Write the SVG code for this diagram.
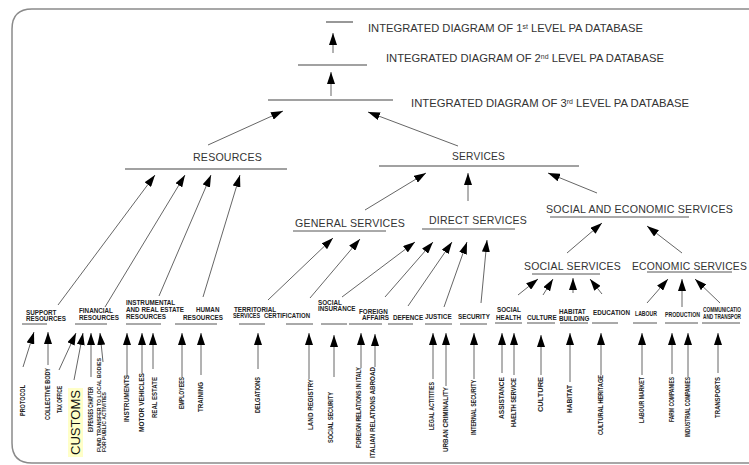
<svg xmlns="http://www.w3.org/2000/svg" width="749" height="465" viewBox="0 0 749 465">
  <style>
    .bg { fill: #ffffff; }
    .frame { fill: none; stroke: #8a8a8a; stroke-width: 1.5; }
    .bar { stroke: #444; stroke-width: 1.1; fill: none; }
    .ul { stroke: #555; stroke-width: 1; fill: none; }
    .title { font-family: "Liberation Sans", Arial, sans-serif; font-size: 10.5px; fill: #333; }
    .sup { font-size: 6.5px; }
    .head { font-family: "Liberation Sans", Arial, sans-serif; font-size: 10.5px; fill: #333; letter-spacing: 0.2px; }
    .lab { font-family: "Liberation Sans", Arial, sans-serif; font-size: 6.3px; font-weight: bold; fill: #222; }
    .leaf { font-family: "Liberation Sans", Arial, sans-serif; font-size: 6.4px; font-weight: bold; fill: #222; }
    .big { font-family: "Liberation Sans", Arial, sans-serif; font-size: 13.5px; fill: #111; }
    .hl { fill: #ffffc8; }
    .conn line { stroke: #666; stroke-width: 1; marker-end: url(#ah); }
  </style>
  <defs>
    <marker id="ah" viewBox="0 0 12 8" refX="12" refY="4" markerWidth="12" markerHeight="8" markerUnits="userSpaceOnUse" orient="auto">
      <path d="M0,0 L12,4 L0,8 z" fill="#000"/>
    </marker>
  </defs>

  <rect class="bg" x="0" y="0" width="749" height="465"/>
  <path class="frame" d="M752,9 H32 Q12,9 12,29 V443 Q12,463 32,463 H752"/>

  <!-- integrated diagrams -->
  <g id="level1">
    <line class="bar" x1="326" y1="22" x2="353" y2="22"/>
    <text class="title" x="368" y="32" textLength="275" lengthAdjust="spacingAndGlyphs">INTEGRATED DIAGRAM OF 1<tspan class="sup" dy="-3.5">st</tspan><tspan dy="3.5"> LEVEL PA DATABASE</tspan></text>
  </g>
  <g id="level2">
    <line class="bar" x1="298" y1="65" x2="367" y2="65"/>
    <text class="title" x="386" y="62" textLength="278" lengthAdjust="spacingAndGlyphs">INTEGRATED DIAGRAM OF 2<tspan class="sup" dy="-3.5">nd</tspan><tspan dy="3.5"> LEVEL PA DATABASE</tspan></text>
  </g>
  <g id="level3">
    <line class="bar" x1="268" y1="100" x2="393" y2="100"/>
    <text class="title" x="411" y="107" textLength="278" lengthAdjust="spacingAndGlyphs">INTEGRATED DIAGRAM OF 3<tspan class="sup" dy="-3.5">rd</tspan><tspan dy="3.5">  LEVEL PA DATABASE</tspan></text>
  </g>

  <!-- main branches -->
  <g id="resources">
    <text class="head" x="193" y="161" textLength="69" lengthAdjust="spacingAndGlyphs">RESOURCES</text>
    <line class="bar" x1="125" y1="169" x2="287" y2="169"/>
  </g>
  <g id="services">
    <text class="head" x="452" y="160" textLength="53" lengthAdjust="spacingAndGlyphs">SERVICES</text>
    <line class="bar" x1="379" y1="166" x2="579" y2="166"/>
  </g>
  <g id="general-services">
    <text class="head" x="295" y="227" textLength="110" lengthAdjust="spacingAndGlyphs">GENERAL SERVICES</text>
    <line class="ul" x1="293" y1="231" x2="386" y2="231"/>
  </g>
  <g id="direct-services">
    <text class="head" x="429" y="224" textLength="98" lengthAdjust="spacingAndGlyphs">DIRECT SERVICES</text>
    <line class="ul" x1="422" y1="229" x2="515" y2="229"/>
  </g>
  <g id="social-economic-services">
    <text class="head" x="546" y="213" textLength="187" lengthAdjust="spacingAndGlyphs">SOCIAL AND ECONOMIC SERVICES</text>
    <line class="ul" x1="550" y1="217" x2="689" y2="217"/>
  </g>
  <g id="social-services">
    <text class="head" x="524" y="270" textLength="97" lengthAdjust="spacingAndGlyphs">SOCIAL SERVICES</text>
    <line class="ul" x1="532" y1="274" x2="600" y2="274"/>
  </g>
  <g id="economic-services">
    <text class="head" x="632" y="270" textLength="115" lengthAdjust="spacingAndGlyphs">ECONOMIC SERVICES</text>
    <line class="ul" x1="647" y1="272" x2="732" y2="272"/>
  </g>

  <!-- resource categories -->
  <g id="support-resources">
    <text class="lab" x="26" y="315">SUPPORT</text>
    <text class="lab" x="26" y="321">RESOURCES</text>
    <line class="ul" x1="22" y1="324" x2="47" y2="324"/>
  </g>
  <g id="financial-resources">
    <text class="lab" x="79" y="313">FINANCIAL</text>
    <text class="lab" x="79" y="320">RESOURCES</text>
    <line class="ul" x1="75" y1="324" x2="107" y2="324"/>
  </g>
  <g id="instrumental-resources">
    <text class="lab" x="126" y="305">INSTRUMENTAL</text>
    <text class="lab" x="126" y="312">AND REAL ESTATE</text>
    <text class="lab" x="126" y="319">RESOURCES</text>
    <line class="ul" x1="126" y1="324" x2="161" y2="324"/>
  </g>
  <g id="human-resources">
    <text class="lab" x="196" y="312">HUMAN</text>
    <text class="lab" x="183" y="320">RESOURCES</text>
    <line class="ul" x1="175" y1="324" x2="217" y2="324"/>
  </g>

  <!-- service categories -->
  <g id="territorial-services">
    <text class="lab" x="234" y="312">TERRITORIAL</text>
    <text class="lab" x="233" y="318" textLength="27" lengthAdjust="spacingAndGlyphs">SERVICES</text>
    <line class="ul" x1="239" y1="324" x2="265" y2="324"/>
  </g>
  <g id="certification">
    <text class="lab" x="264" y="318" textLength="46" lengthAdjust="spacingAndGlyphs">CERTIFICATION</text>
    <line class="ul" x1="286" y1="324" x2="313" y2="324"/>
  </g>
  <g id="social-insurance">
    <text class="lab" x="318" y="305">SOCIAL</text>
    <text class="lab" x="318" y="311">INSURANCE</text>
    <line class="ul" x1="321" y1="324" x2="347" y2="324"/>
  </g>
  <g id="foreign-affairs">
    <text class="lab" x="359" y="313.5">FOREIGN</text>
    <text class="lab" x="362" y="320">AFFAIRS</text>
    <line class="ul" x1="349" y1="324" x2="382" y2="324"/>
  </g>
  <g id="defence">
    <text class="lab" x="393" y="320">DEFENCE</text>
    <line class="ul" x1="388" y1="324" x2="413" y2="324"/>
  </g>
  <g id="justice">
    <text class="lab" x="425" y="319">JUSTICE</text>
    <line class="ul" x1="425" y1="324" x2="452" y2="324"/>
  </g>
  <g id="security">
    <text class="lab" x="458" y="319">SECURITY</text>
    <line class="ul" x1="460" y1="324" x2="487" y2="324"/>
  </g>
  <g id="social-health">
    <text class="lab" x="497" y="312">SOCIAL</text>
    <text class="lab" x="496" y="320">HEALTH</text>
    <line class="ul" x1="495" y1="323" x2="522" y2="323"/>
  </g>
  <g id="culture">
    <text class="lab" x="527" y="320">CULTURE</text>
    <line class="ul" x1="527" y1="323" x2="555" y2="323"/>
  </g>
  <g id="habitat-building">
    <text class="lab" x="559" y="314">HABITAT</text>
    <text class="lab" x="559" y="321">BUILDING</text>
    <line class="ul" x1="560" y1="323" x2="588" y2="323"/>
  </g>
  <g id="education">
    <text class="lab" x="593" y="315">EDUCATION</text>
    <line class="ul" x1="592" y1="323" x2="618" y2="323"/>
  </g>
  <g id="labour">
    <text class="lab" x="635" y="316" textLength="22" lengthAdjust="spacingAndGlyphs">LABOUR</text>
    <line class="ul" x1="633" y1="323" x2="657" y2="323"/>
  </g>
  <g id="production">
    <text class="lab" x="665" y="317" textLength="35" lengthAdjust="spacingAndGlyphs">PRODUCTION</text>
    <line class="ul" x1="665" y1="323" x2="698" y2="323"/>
  </g>
  <g id="communication-transport">
    <text class="lab" x="703" y="312" textLength="38" lengthAdjust="spacingAndGlyphs">COMMUNICATIO</text>
    <text class="lab" x="703" y="318.5" textLength="38" lengthAdjust="spacingAndGlyphs">AND TRANSPOR</text>
    <line class="ul" x1="702" y1="323" x2="740" y2="323"/>
  </g>

  <!-- leaf items (rotated labels) -->
  <g id="protocol"><text class="leaf" transform="translate(25,416) rotate(-90)" textLength="31" lengthAdjust="spacingAndGlyphs">PROTOCOL</text></g>
  <g id="collective-body"><text class="leaf" transform="translate(50,420) rotate(-90)" textLength="52" lengthAdjust="spacingAndGlyphs">COLLECTIVE BODY</text></g>
  <g id="tax-office"><text class="leaf" transform="translate(62,413) rotate(-90)" textLength="27" lengthAdjust="spacingAndGlyphs">TAX OFFICE</text></g>
  <g id="customs">
    <rect class="hl" x="68" y="388" width="15" height="69"/>
    <text class="big" transform="translate(80,455) rotate(-90)" textLength="65" lengthAdjust="spacingAndGlyphs">CUSTOMS</text>
  </g>
  <g id="expenses-chapter"><text class="leaf" transform="translate(93,432) rotate(-90)" textLength="45" lengthAdjust="spacingAndGlyphs">EXPENSES CHAPTER</text></g>
  <g id="fund-transfer">
    <text class="leaf" style="font-size:5.4px" transform="translate(101,452) rotate(-90)" textLength="94" lengthAdjust="spacingAndGlyphs">FUND TRANSFER TO LOCAL BODIES</text>
    <text class="leaf" style="font-size:5.4px" transform="translate(106,452) rotate(-90)" textLength="60" lengthAdjust="spacingAndGlyphs">FOR PUBLIC ACTIVITIES</text>
  </g>
  <g id="instruments"><text class="leaf" transform="translate(129,422) rotate(-90)" textLength="47" lengthAdjust="spacingAndGlyphs">INSTRUMENTS</text></g>
  <g id="motor-vehicles"><text class="leaf" transform="translate(144,432) rotate(-90)" textLength="59" lengthAdjust="spacingAndGlyphs">MOTOR VEHICLES</text></g>
  <g id="real-estate"><text class="leaf" transform="translate(157,418) rotate(-90)" textLength="41" lengthAdjust="spacingAndGlyphs">REAL ESTATE</text></g>
  <g id="employees"><text class="leaf" transform="translate(184,409) rotate(-90)" textLength="32" lengthAdjust="spacingAndGlyphs">EMPLOYEES</text></g>
  <g id="training"><text class="leaf" transform="translate(203,412) rotate(-90)" textLength="30" lengthAdjust="spacingAndGlyphs">TRAINING</text></g>
  <g id="delgations"><text class="leaf" transform="translate(260,413) rotate(-90)" textLength="36" lengthAdjust="spacingAndGlyphs">DELGATIONS</text></g>
  <g id="land-registry"><text class="leaf" transform="translate(313,430) rotate(-90)" textLength="51" lengthAdjust="spacingAndGlyphs">LAND REGISTRY</text></g>
  <g id="social-security"><text class="leaf" transform="translate(333,443) rotate(-90)" textLength="51" lengthAdjust="spacingAndGlyphs">SOCIAL SECURITY</text></g>
  <g id="foreign-relations-italy"><text class="leaf" transform="translate(361,448) rotate(-90)" textLength="81" lengthAdjust="spacingAndGlyphs">FOREIGN RELATIONS IN ITALY</text></g>
  <g id="italian-relations-abroad"><text class="leaf" transform="translate(375,458) rotate(-90)" textLength="91" lengthAdjust="spacingAndGlyphs">ITALIAN RELATIONS ABROAD</text></g>
  <g id="legal-actitities"><text class="leaf" transform="translate(434,430) rotate(-90)" textLength="48" lengthAdjust="spacingAndGlyphs">LEGAL ACTITITIES</text></g>
  <g id="urban-criminality"><text class="leaf" transform="translate(448,452) rotate(-90)" textLength="65" lengthAdjust="spacingAndGlyphs">URBAN CRIMINALITY</text></g>
  <g id="internal-security"><text class="leaf" transform="translate(476,435) rotate(-90)" textLength="55" lengthAdjust="spacingAndGlyphs">INTERNAL SECURITY</text></g>
  <g id="assistance"><text class="leaf" transform="translate(504,419) rotate(-90)" textLength="42" lengthAdjust="spacingAndGlyphs">ASSISTANCE</text></g>
  <g id="haelth-service"><text class="leaf" transform="translate(516,427) rotate(-90)" textLength="49" lengthAdjust="spacingAndGlyphs">HAELTH SERVICE</text></g>
  <g id="culture-item"><text class="leaf" transform="translate(543,412) rotate(-90)" textLength="35" lengthAdjust="spacingAndGlyphs">CULTURE</text></g>
  <g id="habitat"><text class="leaf" transform="translate(572,413) rotate(-90)" textLength="28" lengthAdjust="spacingAndGlyphs">HABITAT</text></g>
  <g id="cultural-heritage"><text class="leaf" transform="translate(603,435) rotate(-90)" textLength="60" lengthAdjust="spacingAndGlyphs">CULTURAL HERITAGE</text></g>
  <g id="labour-market"><text class="leaf" transform="translate(644,423) rotate(-90)" textLength="46" lengthAdjust="spacingAndGlyphs">LABOUR MARKET</text></g>
  <g id="farm-companies"><text class="leaf" transform="translate(674,422) rotate(-90)" textLength="45" lengthAdjust="spacingAndGlyphs">FARM COMPANIES</text></g>
  <g id="industrial-companies"><text class="leaf" transform="translate(690,437) rotate(-90)" textLength="60" lengthAdjust="spacingAndGlyphs">INDUSTRIAL COMPANIES</text></g>
  <g id="transports"><text class="leaf" transform="translate(720,418) rotate(-90)" textLength="41" lengthAdjust="spacingAndGlyphs">TRANSPORTS</text></g>

  <!-- connectors -->
  <g id="connectors" class="conn">
    <line x1="333" y1="53" x2="333" y2="33"/>
    <line x1="331" y1="96" x2="331" y2="72"/>
    <line x1="208" y1="145" x2="283" y2="111"/>
    <line x1="458" y1="146" x2="368" y2="112"/>

    <line x1="365" y1="210" x2="426" y2="173"/>
    <line x1="468" y1="201" x2="468" y2="173"/>
    <line x1="597" y1="193" x2="548" y2="173"/>
    <line x1="567" y1="253" x2="602" y2="223"/>
    <line x1="682" y1="253" x2="647" y2="226"/>

    <line x1="58" y1="305" x2="155" y2="175"/>
    <line x1="105" y1="307" x2="185" y2="175"/>
    <line x1="159" y1="296" x2="211" y2="175"/>
    <line x1="203" y1="297" x2="240" y2="175"/>

    <line x1="268" y1="300" x2="333" y2="238"/>
    <line x1="310" y1="298" x2="360" y2="239"/>

    <line x1="342" y1="297" x2="415" y2="242"/>
    <line x1="385" y1="297" x2="433" y2="242"/>
    <line x1="408" y1="306" x2="452" y2="242"/>
    <line x1="444" y1="307" x2="467" y2="242"/>
    <line x1="481" y1="303" x2="487" y2="240"/>

    <line x1="518" y1="295" x2="538" y2="279"/>
    <line x1="543" y1="295" x2="553" y2="279"/>
    <line x1="573" y1="293" x2="573" y2="278"/>
    <line x1="602" y1="294" x2="590" y2="279"/>

    <line x1="647" y1="303" x2="668" y2="279"/>
    <line x1="682" y1="307" x2="682" y2="279"/>
    <line x1="720" y1="303" x2="695" y2="279"/>

    <line x1="23" y1="367" x2="34" y2="332"/>
    <line x1="48" y1="365" x2="48" y2="332"/>
    <line x1="59" y1="370" x2="76" y2="333"/>
    <line x1="74" y1="380" x2="83" y2="333"/>
    <line x1="91" y1="377" x2="91" y2="333"/>
    <line x1="103" y1="362" x2="100" y2="333"/>
    <line x1="127" y1="377" x2="127" y2="333"/>
    <line x1="142" y1="373" x2="142" y2="333"/>
    <line x1="153" y1="369" x2="153" y2="333"/>
    <line x1="182" y1="377" x2="182" y2="333"/>
    <line x1="201" y1="375" x2="201" y2="333"/>
    <line x1="258" y1="369" x2="258" y2="333"/>
    <line x1="309" y1="379" x2="309" y2="333"/>
    <line x1="334" y1="377" x2="334" y2="335"/>
    <line x1="361" y1="368" x2="361" y2="333"/>
    <line x1="375" y1="367" x2="375" y2="334"/>
    <line x1="433" y1="379" x2="433" y2="333"/>
    <line x1="446" y1="386" x2="446" y2="333"/>
    <line x1="474" y1="379" x2="474" y2="333"/>
    <line x1="502" y1="373" x2="502" y2="333"/>
    <line x1="514" y1="375" x2="514" y2="333"/>
    <line x1="541" y1="375" x2="541" y2="335"/>
    <line x1="570" y1="382" x2="570" y2="333"/>
    <line x1="601" y1="375" x2="601" y2="333"/>
    <line x1="642" y1="375" x2="642" y2="333"/>
    <line x1="672" y1="374" x2="672" y2="333"/>
    <line x1="688" y1="377" x2="688" y2="333"/>
    <line x1="718" y1="373" x2="718" y2="333"/>
  </g>
</svg>
